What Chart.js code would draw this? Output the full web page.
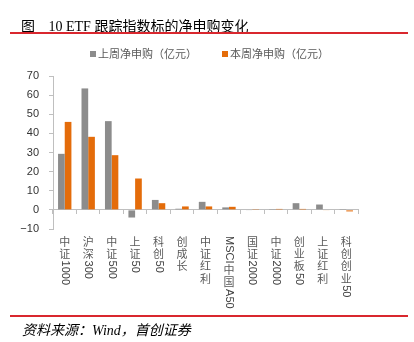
<!DOCTYPE html>
<html><head><meta charset="utf-8">
<script src="https://cdn.jsdelivr.net/npm/chart.js@4.4.1/dist/chart.umd.min.js"></script>
<style>
html,body{margin:0;padding:0;background:#fff;}
#wrap{position:relative;width:414px;height:342px;overflow:hidden;}
#c{position:absolute;left:0;top:0;}
.ov{position:absolute;z-index:2;white-space:nowrap;}
#title{left:21px;top:15px;font:14px "Liberation Serif","Noto Sans CJK SC",serif;color:#000;}
#title .g{margin-right:10px;}
#line1{left:10px;top:32px;width:398px;height:2px;background:#d9272e;}
#line2{left:10px;top:315px;width:398px;height:2px;background:#d9272e;}
#src{left:22px;top:319px;font:italic 14px "Liberation Serif","Noto Sans CJK SC",serif;color:#000;}
#legend{left:0;top:45px;width:414px;font:11px "Noto Sans CJK SC",sans-serif;color:#595959;}
#legend span.it{position:absolute;top:0;}
#legend i{display:inline-block;width:6px;height:6px;margin-right:2px;vertical-align:1px;}
</style></head>
<body><div id="wrap">
<canvas id="c" width="414" height="342"></canvas>
<div class="ov" id="title"><span class="g">图</span> 10 ETF 跟踪指数标的净申购变化</div>
<div class="ov" id="line1"></div>
<div class="ov" id="legend"></div>
<div class="ov" id="line2"></div>
<div class="ov" id="src">资料来源：Wind，首创证券</div>
</div>
<script>
const categories = ['中证1000','沪深300','中证500','上证50','科创50','创成长','中证红利','MSCI中国A50','国证2000','中证2000','创业板50','上证红利','科创创业50'];
const seriesNames = ['上周净申购（亿元）','本周净申购（亿元）'];
const lastWeek = [29.3, 63.5, 46.4, -4.0, 5.2, 0.6, 4.2, 1.3, -0.3, 0.1, 3.5, 2.8, 0.1];
const thisWeek = [46.0, 38.2, 28.6, 16.4, 3.5, 1.8, 1.8, 1.6, 0.4, 0.5, 0.5, -0.3, -0.8];
const yMin = -10, yMax = 70, yStep = 10;
const colors = ['#8c8c8c', '#e46c0a'];

// HTML legend
const lg = document.getElementById('legend');
const legendX = [90, 222];
seriesNames.forEach((n, i) => {
  const s = document.createElement('span');
  s.className = 'it';
  s.style.left = legendX[i] + 'px';
  s.innerHTML = '<i style="background:' + colors[i] + '"></i>' + n;
  lg.appendChild(s);
});

const xLabelPlugin = {
  id: 'xlabels',
  afterDraw(chart) {
    const {ctx} = chart;
    const x = chart.scales.x;
    const top = chart.chartArea.bottom + 7;
    ctx.save();
    categories.forEach((label, i) => {
      const cx = x.getPixelForValue(i);
      let y = top;
      const runs = label.match(/[\x00-\x7F]+|[^\x00-\x7F]/g);
      runs.forEach(run => {
        if (/^[\x00-\x7F]+$/.test(run)) {
          ctx.font = '11px "Liberation Sans"';
          const w = ctx.measureText(run).width;
          ctx.save();
          ctx.translate(cx, y);
          ctx.rotate(Math.PI / 2);
          ctx.textAlign = 'left';
          ctx.textBaseline = 'middle';
          ctx.fillStyle = '#404040';
          ctx.fillText(run, 0, 0);
          ctx.restore();
          y += w + 1;
        } else {
          ctx.font = '11px "Noto Sans CJK SC"';
          ctx.textAlign = 'center';
          ctx.textBaseline = 'top';
          ctx.fillStyle = '#595959';
          ctx.fillText(run, cx, y);
          y += 12.3;
        }
      });
    });
    ctx.restore();
  }
};

new Chart(document.getElementById('c'), {
  type: 'bar',
  data: {
    labels: categories,
    datasets: [
      {label: seriesNames[0], data: lastWeek, backgroundColor: colors[0], barPercentage: 1, categoryPercentage: 0.57},
      {label: seriesNames[1], data: thisWeek, backgroundColor: colors[1], barPercentage: 1, categoryPercentage: 0.57}
    ]
  },
  options: {
    responsive: false,
    animation: false,
    layout: {padding: {left: 8, right: 56, top: 76, bottom: 113}},
    plugins: {legend: {display: false}, tooltip: {enabled: false}},
    scales: {
      x: {
        position: {y: 0},
        offset: true,
        ticks: {display: false},
        grid: {drawOnChartArea: false, tickLength: 4, color: '#bfbfbf', offset: true},
        border: {color: '#bfbfbf'}
      },
      y: {
        min: yMin, max: yMax,
        ticks: {stepSize: yStep, color: '#333', padding: 10, font: {family: 'Liberation Sans', size: 11},
          callback: v => v < 0 ? '\u2212' + Math.abs(v) : String(v)},
        grid: {drawOnChartArea: false, tickLength: 4, color: '#bfbfbf'},
        border: {color: '#bfbfbf'},
        afterFit(s) { s.width = 45; }
      }
    }
  },
  plugins: [xLabelPlugin]
});
</script>
</body></html>
